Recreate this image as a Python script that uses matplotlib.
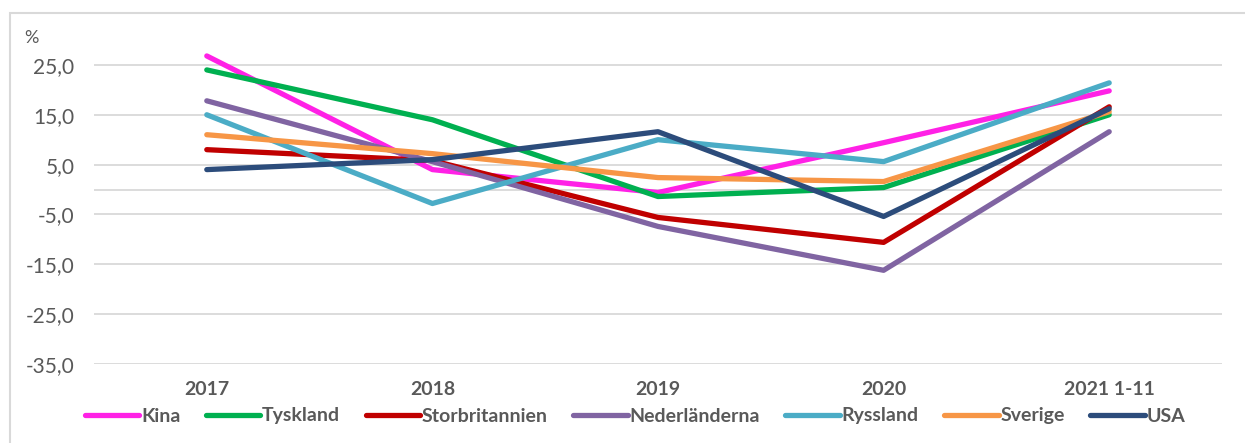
import numpy as np
import matplotlib
matplotlib.use("Agg")
import matplotlib.pyplot as plt
from matplotlib.patches import Rectangle

plt.rcParams['font.family'] = ['Lato', 'DejaVu Sans']

years = ['2017', '2018', '2019', '2020', '2021 1-11']
kina = [26.8, 4.0, -0.6, 9.4, 19.8]
tyskland = [24.0, 14.0, -1.4, 0.4, 15.0]
storbritannien = [8.0, 5.8, -5.6, -10.6, 16.6]
nederlanderna = [17.8, 5.6, -7.4, -16.2, 11.6]
ryssland = [15.0, -2.8, 10.0, 5.6, 21.4]
sverige = [11.0, 7.2, 2.4, 1.6, 15.6]
usa = [4.0, 6.0, 11.6, -5.4, 16.2]

series = [('Kina', kina, '#FF21E6'),
          ('Tyskland', tyskland, '#00B050'),
          ('Storbritannien', storbritannien, '#C00000'),
          ('Nederländerna', nederlanderna, '#8064A2'),
          ('Ryssland', ryssland, '#4BACC6'),
          ('Sverige', sverige, '#F79646'),
          ('USA', usa, '#2C4C7B')]

grey = '#595959'
fig = plt.figure(figsize=(12.45, 4.43), dpi=100)
fig.patches.append(Rectangle((10/1245, -0.01), 1.0, 1 - 13/443 + 0.01,
                             transform=fig.transFigure, fill=False,
                             edgecolor='#D9D9D9', linewidth=1.5))
ax = fig.add_axes([94/1245, 1 - 364/443, (1222 - 94)/1245, (364 - 40)/443])

x = np.arange(len(years))
for name, vals, col in series:
    ax.plot(x, vals, color=col, lw=3.8, solid_capstyle='round',
            solid_joinstyle='round', label=name, zorder=3)

ax.set_xlim(-0.5, len(years) - 0.5)
ax.set_ylim(-35, 30)
yt = [25, 15, 5, -5, -15, -25, -35]
ax.set_yticks(yt)
ax.set_yticklabels([f'{v:.1f}'.replace('.', ',') for v in yt],
                   fontsize=15, color=grey)
for v in yt + [0]:
    ax.axhline(v, color='#D9D9D9', lw=1.3, zorder=1)
ax.set_xticks(x)
ax.set_xticklabels(years, fontsize=14, fontweight='bold', color=grey)
ax.tick_params(length=0, axis='y', pad=14)
ax.tick_params(length=0, axis='x', pad=12)
for s in ax.spines.values():
    s.set_visible(False)

fig.text(24/1245, 1 - 38/443, '%', fontsize=13, color=grey, va='center')

leg = fig.legend(loc='center', bbox_to_anchor=(635/1245, 1 - 416/443), ncol=7,
                 frameon=False, handlelength=2.8, handletextpad=0.1,
                 columnspacing=1.3, prop={'size': 14, 'weight': 'bold'})
for t in leg.get_texts():
    t.set_color(grey)
for h in leg.get_lines():
    h.set_solid_capstyle('round')

fig.savefig('out.png', dpi=100)
